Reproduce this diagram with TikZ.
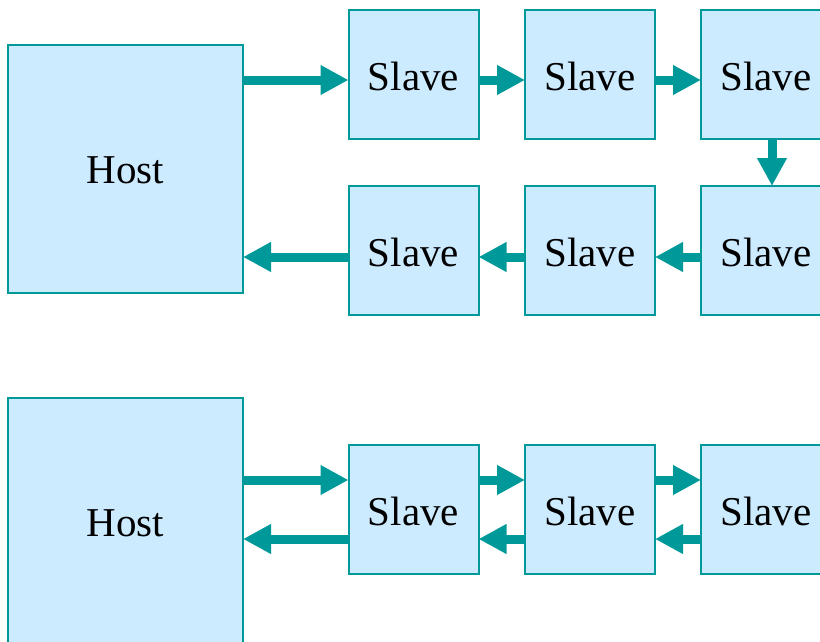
\documentclass[tikz,border=0pt]{standalone}
\usepackage{fontspec}
\setmainfont{Liberation Serif}
\usetikzlibrary{arrows.meta}
\definecolor{boxfill}{HTML}{CCEBFF}
\definecolor{teal1}{HTML}{009999}
\begin{document}
\begin{tikzpicture}[x=1pt,y=-1pt,
  box/.style={draw=teal1,fill=boxfill,line width=2pt,inner sep=0pt,outer sep=0pt,font=\fontsize{41}{41}\selectfont,text depth=0pt},
  slave/.style={box,minimum width=130pt,minimum height=129pt,text height=32pt},
  host/.style={box,minimum width=235pt,minimum height=248pt,text height=28pt},
  link/.style={draw=teal1,line width=9pt,-{Triangle[length=28pt,width=28pt]},color=teal1}]
\useasboundingbox (0,0) rectangle (820,641);
\clip (0,0) rectangle (820,641);
% top diagram
\node[host] (h1) at (125.5,169) {Host};
\node[slave] (s1) at (413.5,74.5) {Slave};
\node[slave] (s2) at (590,74.5) {Slave};
\node[slave] (s3) at (766,74.5) {Slave};
\node[slave] (s4) at (766,250.5) {Slave};
\node[slave] (s5) at (590,250.5) {Slave};
\node[slave] (s6) at (413.5,250.5) {Slave};
\draw[link] ([yshift=89pt]h1.east) -- ([yshift=-5.5pt]s1.west);
\draw[link] ([yshift=-5.5pt]s1.east) -- ([yshift=-5.5pt]s2.west);
\draw[link] ([yshift=-5.5pt]s2.east) -- ([yshift=-5.5pt]s3.west);
\draw[link] ([xshift=6pt]s3.south) -- ([xshift=6pt]s4.north);
\draw[link] ([yshift=-6.5pt]s4.west) -- ([yshift=-6.5pt]s5.east);
\draw[link] ([yshift=-6.5pt]s5.west) -- ([yshift=-6.5pt]s6.east);
\draw[link] ([yshift=-6.5pt]s6.west) -- ([yshift=-88pt]h1.east);
% bottom diagram
\node[host] (h2) at (125.5,522) {Host};
\node[slave] (b1) at (413.5,509.5) {Slave};
\node[slave] (b2) at (590,509.5) {Slave};
\node[slave] (b3) at (766,509.5) {Slave};
\draw[link] ([yshift=42pt]h2.east) -- ([yshift=29.5pt]b1.west);
\draw[link] ([yshift=29.5pt]b1.east) -- ([yshift=29.5pt]b2.west);
\draw[link] ([yshift=29.5pt]b2.east) -- ([yshift=29.5pt]b3.west);
\draw[link] ([yshift=-29.5pt]b3.west) -- ([yshift=-29.5pt]b2.east);
\draw[link] ([yshift=-29.5pt]b2.west) -- ([yshift=-29.5pt]b1.east);
\draw[link] ([yshift=-29.5pt]b1.west) -- ([yshift=-17pt]h2.east);
\end{tikzpicture}
\end{document}
